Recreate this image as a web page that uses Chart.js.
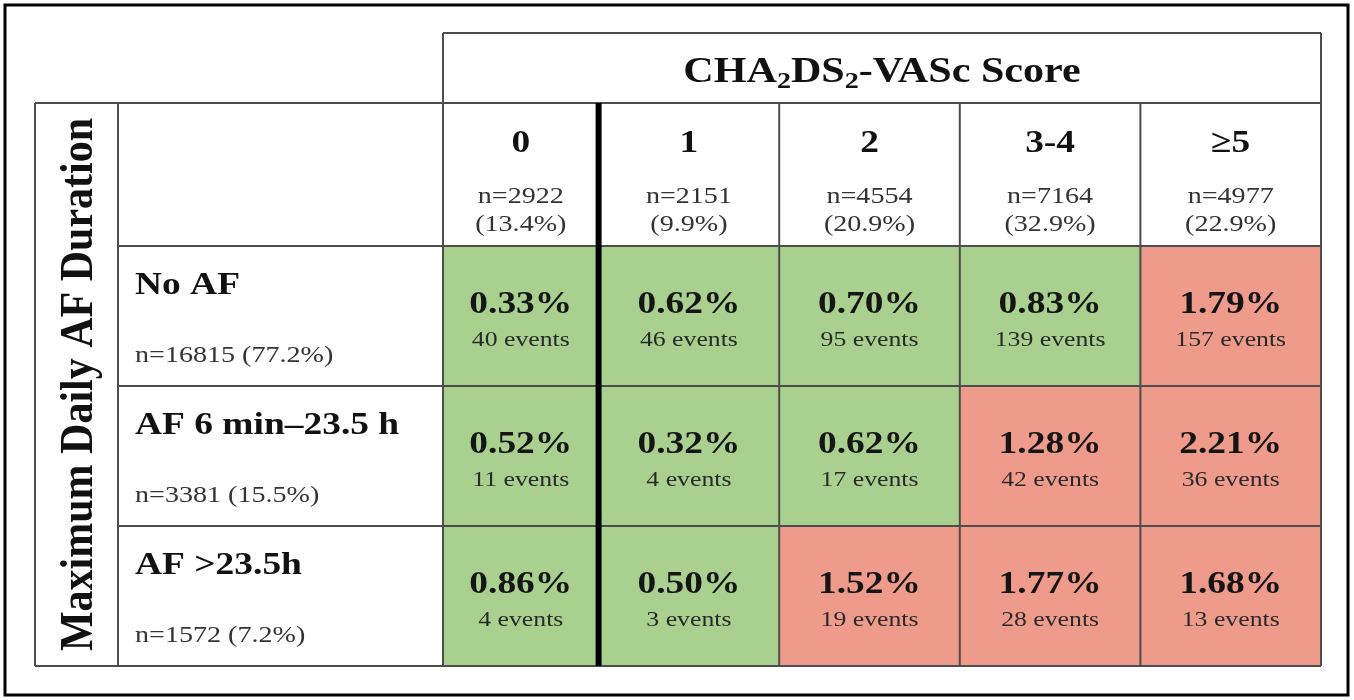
<!DOCTYPE html>
<html lang="en">
<head>
  <meta charset="UTF-8" />
  <title>CHA2DS2-VASc by AF duration</title>
  <script src="https://cdn.jsdelivr.net/npm/chart.js"></script>
  <style>
    html, body { margin: 0; padding: 0; background: #fff; }
    #wrap { width: 1354px; height: 700px; position: relative; }
  </style>
</head>
<body>
  <div id="wrap"><canvas id="chart-table"></canvas></div>
  <script>
    // score columns
    const scores = ['0', '1', '2', '3-4', '\u22655'];
    const scoreN = [2922, 2151, 4554, 7164, 4977];
    const scorePct = ['13.4%', '9.9%', '20.9%', '32.9%', '22.9%'];

    // AF duration rows
    const durations = ['No AF', 'AF 6 min\u201323.5 h', 'AF >23.5h'];
    const durationN = [16815, 3381, 1572];
    const durationPct = ['77.2%', '15.5%', '7.2%'];

    // event rates (%) and event counts, one array per row
    const rateNoAF = [0.33, 0.62, 0.70, 0.83, 1.79];
    const rateShort = [0.52, 0.32, 0.62, 1.28, 2.21];
    const rateLong = [0.86, 0.50, 1.52, 1.77, 1.68];
    const eventsNoAF = [40, 46, 95, 139, 157];
    const eventsShort = [11, 4, 17, 42, 36];
    const eventsLong = [4, 3, 19, 28, 13];

    const rates = [rateNoAF, rateShort, rateLong];
    const events = [eventsNoAF, eventsShort, eventsLong];
    const threshold = 1.0;

    const GREEN = '#a9d08e';
    const RED = '#ef9b8b';
    const LINE = '#4d4d4d';
    const SERIF = '"Liberation Serif", "Times New Roman", Times, serif';
    const SX = 1.17; // the source picture is stretched sideways

    function txt(ctx, s, x, y, font, color, align) {
      ctx.save();
      ctx.font = font;
      ctx.fillStyle = color;
      ctx.textAlign = align || 'center';
      ctx.textBaseline = 'alphabetic';
      ctx.translate(x, y);
      ctx.scale(SX, 1);
      ctx.fillText(s, 0, 0);
      ctx.restore();
    }

    function line(ctx, x1, y1, x2, y2, w, c) {
      ctx.save();
      ctx.strokeStyle = c || LINE;
      ctx.lineWidth = w || 2;
      ctx.beginPath();
      ctx.moveTo(x1, y1);
      ctx.lineTo(x2, y2);
      ctx.stroke();
      ctx.restore();
    }

    const tablePlugin = {
      id: 'tableText',
      afterDatasetsDraw(chart) {
        const ctx = chart.ctx;
        const area = chart.chartArea;
        const ys = chart.scales.y;
        const colW = area.width / scores.length;
        const edgeX = i => area.left + i * colW;
        const headTop = 33, headBot = 103, tableLeft = 35, labelRight = 118, dataLeft = 443;
        // first score column is cut short on its left side
        const colMid = i => i === 0 ? (dataLeft + edgeX(1)) / 2 : chart.scales.x.getPixelForValue(i);

        ctx.save();
        ctx.fillStyle = '#fff';
        ctx.fillRect(area.left - 1, area.top, dataLeft - area.left + 1, area.height);
        ctx.restore();

        // outer frame
        ctx.save();
        ctx.strokeStyle = '#000';
        ctx.lineWidth = 3;
        ctx.strokeRect(5, 5, 1343, 690);
        ctx.restore();

        // table lines
        line(ctx, dataLeft, headTop, area.right, headTop);
        line(ctx, dataLeft, headTop, dataLeft, area.bottom);
        line(ctx, area.right, headTop, area.right, area.bottom);
        line(ctx, tableLeft, headBot, area.right, headBot);
        line(ctx, tableLeft, headBot, tableLeft, area.bottom);
        line(ctx, labelRight, headBot, labelRight, area.bottom);
        line(ctx, tableLeft, area.bottom, area.right, area.bottom);
        for (let i = 2; i < scores.length; i++) {
          line(ctx, edgeX(i), headBot, edgeX(i), area.bottom);
        }
        for (let r = 0; r < durations.length; r++) {
          const y = ys.getPixelForValue(r);
          line(ctx, labelRight, y, area.right, y);
        }
        // thick line after score 0
        line(ctx, edgeX(1), headBot, edgeX(1), area.bottom, 6, '#000');

        // title with subscripts
        const big = 'bold 36px ' + SERIF;
        const small = 'bold 24px ' + SERIF;
        const parts = [['CHA', big, 0], ['2', small, 6], ['DS', big, 0], ['2', small, 6], ['-VASc Score', big, 0]];
        let total = 0;
        parts.forEach(p => { ctx.font = p[1]; total += ctx.measureText(p[0]).width * SX; });
        let cx = (dataLeft + area.right) / 2 - total / 2;
        parts.forEach(p => {
          ctx.font = p[1];
          const w = ctx.measureText(p[0]).width * SX;
          txt(ctx, p[0], cx, 82 + p[2], p[1], '#111', 'left');
          cx += w;
        });

        // column headers
        scores.forEach((s, i) => {
          const x = colMid(i);
          txt(ctx, s, x, 152, 'bold 32px ' + SERIF, '#111');
          txt(ctx, 'n=' + scoreN[i], x, 203, '24px ' + SERIF, '#333');
          txt(ctx, '(' + scorePct[i] + ')', x, 231, '24px ' + SERIF, '#333');
        });

        // row labels and cells
        durations.forEach((d, r) => {
          const top = ys.getPixelForValue(r);
          txt(ctx, d, 135, top + 48, 'bold 32px ' + SERIF, '#111', 'left');
          txt(ctx, 'n=' + durationN[r] + ' (' + durationPct[r] + ')', 135, top + 116, '24px ' + SERIF, '#333', 'left');
          scores.forEach((s, i) => {
            const x = colMid(i);
            txt(ctx, rates[r][i].toFixed(2) + '%', x, top + 67, 'bold 32px ' + SERIF, '#151515');
            txt(ctx, events[r][i] + ' events', x, top + 100, '22px ' + SERIF, '#2a2a2a');
          });
        });

        // vertical row title: the sideways stretch makes it taller, not longer
        ctx.save();
        ctx.translate(92, (headBot + area.bottom) / 2);
        ctx.scale(1.1, 1);
        ctx.rotate(-Math.PI / 2);
        ctx.font = 'bold 42px ' + SERIF;
        ctx.fillStyle = '#111';
        ctx.textAlign = 'center';
        ctx.textBaseline = 'alphabetic';
        ctx.fillText('Maximum Daily AF Duration', 0, 0);
        ctx.restore();
      }
    };

    const datasets = durations.map((d, r) => ({
      label: d,
      data: scores.map(() => [r, r + 1]),
      backgroundColor: rates[r].map(v => v > threshold ? RED : GREEN),
      borderWidth: 0,
      barPercentage: 1,
      categoryPercentage: 1,
      grouped: false
    }));

    new Chart(document.getElementById('chart-table'), {
      type: 'bar',
      data: { labels: scores, datasets: datasets },
      options: {
        responsive: true,
        maintainAspectRatio: false,
        animation: false,
        layout: { padding: { left: 418, top: 246, right: 33, bottom: 34 } },
        plugins: { legend: { display: false }, tooltip: { enabled: false } },
        scales: {
          x: { display: false },
          y: { display: false, min: 0, max: 3, reverse: true }
        }
      },
      plugins: [tablePlugin]
    });
  </script>
</body>
</html>
